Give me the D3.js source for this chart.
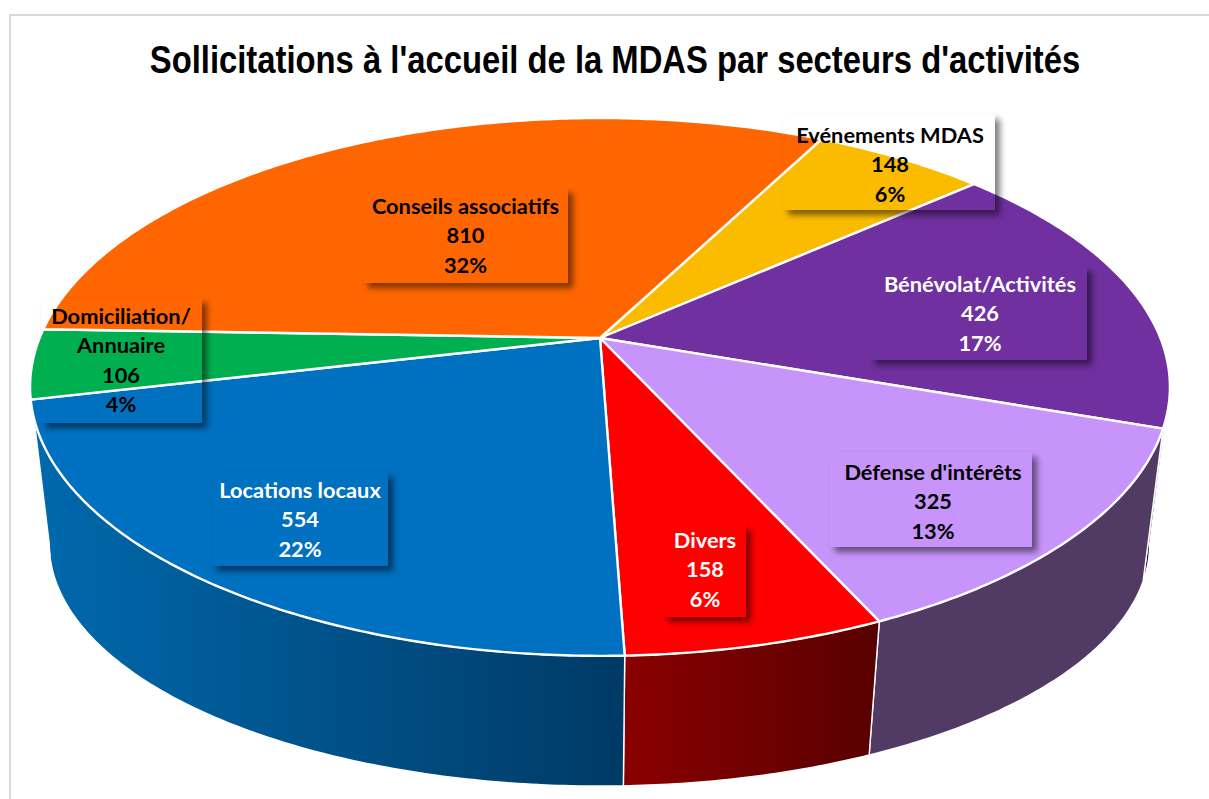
<!DOCTYPE html>
<html><head><meta charset="utf-8">
<script src="https://cdnjs.cloudflare.com/ajax/libs/d3/7.9.0/d3.min.js"></script>
<style>html,body{margin:0;padding:0;background:#fff;overflow:hidden}svg{display:block}</style>
</head><body><div id="chart"></div>
<script>
const categories = ["Evénements MDAS","Bénévolat/Activités","Défense d'intérêts","Divers","Locations locaux","Domiciliation/\nAnnuaire","Conseils associatifs"];
const values = [148,426,325,158,554,106,810];
const titleText = "Sollicitations à l'accueil de la MDAS par secteurs d'activités";

const topColors = ["#fbbc00","#7030a0","#c794fb","#ff0000","#0070c0","#00b050","#ff6600"];
const wallFrom = ["#7d5e00","#2c1145","#513b65","#8a0000","#0069ad","#005828","#803300"];
const wallTo   = ["#7d5e00","#2c1145","#513b65","#580000","#003a66","#005828","#803300"];
const textColors = ["#000","#fff","#000","#fff","#fff","#000","#000"];
// label boxes: x0,y0,x1,y1 and centre x of text, first-line centre y
const labelBoxes = [
 [783,114,995,210,890,135],[870,266,1087,360,980,284],[830,452,1032,547,933,472],
 [663,525,746,617,705,540],[212,472,388,566,300,490],[41,298,202,423,121,316],[363,188,568,283,465.5,206]];
const lineGap = 29.6;

const W=1209,H=799;
const svg=d3.select("#chart").append("svg").attr("width",W).attr("height",H);
const defs=svg.append("defs");
defs.append("filter").attr("id","blur").attr("x","-20%").attr("y","-20%").attr("width","140%").attr("height","140%")
  .append("feGaussianBlur").attr("stdDeviation",3.4);

svg.append("rect").attr("x",10).attr("y",15).attr("width",W+50).attr("height",H+50)
  .attr("fill","#fff").attr("stroke","#d9d9d9").attr("stroke-width",2);

const title=svg.append("text").attr("text-anchor","middle")
  .attr("font-family","'Liberation Sans',Arial,sans-serif").attr("font-weight","700").attr("font-size",39)
  .attr("fill","#000").text(titleText);
title.attr("transform",`translate(615,73) scale(${931/title.node().getComputedTextLength()},1)`);

// Perspective projection of the unit disc (top face and bottom face of the cylinder)
const K=0.182;
const makeProj=(cx,cy,A,B)=>(a)=>{const u=Math.sin(a),v=-Math.cos(a),d=1-K*v;return [cx+A*u/d,cy+B*v/d];};
const topP=makeProj(600,338,560.4,260), botP=makeProj(599.5,500,541,234);
const centre=[600,338];

const pie=d3.pie().value(d=>d).sort(null).startAngle(27.35*Math.PI/180).endAngle(27.35*Math.PI/180+2*Math.PI);
const arcs=pie(values);
const total=d3.sum(values);
const pct=d3.format(".0%");
const line=d3.line();
const sample=(p,a0,a1)=>{const n=Math.max(2,Math.ceil(Math.abs(a1-a0)/0.01));return d3.range(n+1).map(i=>p(a0+(a1-a0)*i/n));};

// visible range of side wall
const visA=Math.PI-Math.acos(K), visB=Math.PI+Math.acos(K);
const walls=svg.append("g");
arcs.forEach((d,i)=>{
  let a0=Math.max(d.startAngle,visA), a1=Math.min(d.endAngle,visB);
  if(a1<=a0) return;
  const pts=sample(topP,a0,a1).concat(sample(botP,a1,a0));
  const xs=d3.extent(pts,p=>p[0]);
  const id="wg"+i;
  const g=defs.append("linearGradient").attr("id",id).attr("gradientUnits","userSpaceOnUse")
    .attr("x1",xs[0]).attr("x2",xs[1]).attr("y1",0).attr("y2",0);
  g.append("stop").attr("offset","0%").attr("stop-color",wallFrom[i]);
  g.append("stop").attr("offset","100%").attr("stop-color",wallTo[i]);
  walls.append("path").attr("d",line(pts)+"Z").attr("fill",`url(#${id})`)
    .attr("stroke","#fff").attr("stroke-width",1.4).attr("stroke-linejoin","round");
});

const tops=svg.append("g");
arcs.forEach((d,i)=>{
  const pts=[centre].concat(sample(topP,d.startAngle,d.endAngle));
  tops.append("path").attr("d",line(pts)+"Z").attr("fill",topColors[i])
    .attr("stroke","#fff").attr("stroke-width",2.4).attr("stroke-linejoin","round");
});

// Labels: transparent box whose drop shadow only appears outside the box
labelBoxes.forEach((b,i)=>{
  const [x0,y0,x1,y1,tx,ty]=b, w=x1-x0, h=y1-y0, id="m"+i;
  const m=defs.append("mask").attr("id",id).attr("maskUnits","userSpaceOnUse")
    .attr("x",0).attr("y",0).attr("width",W).attr("height",H);
  m.append("rect").attr("width",W).attr("height",H).attr("fill","#fff");
  m.append("rect").attr("x",x0).attr("y",y0).attr("width",w).attr("height",h).attr("fill","#000");
  svg.append("g").attr("mask",`url(#${id})`).append("rect")
    .attr("x",x0+5).attr("y",y0+5).attr("width",w).attr("height",h)
    .attr("fill","#000").attr("opacity",0.5).attr("filter","url(#blur)");
  const lines=categories[i].split("\n").concat([values[i],pct(values[i]/total)]);
  const t=svg.append("g").attr("font-family","Lato,'Noto Sans',sans-serif").attr("font-weight","700")
    .attr("font-size",21.8).attr("fill",textColors[i]).attr("text-anchor","middle");
  lines.forEach((s,j)=>t.append("text").attr("x",tx).attr("y",ty+j*lineGap).attr("dy","0.35em").text(s));
});
</script></body></html>
